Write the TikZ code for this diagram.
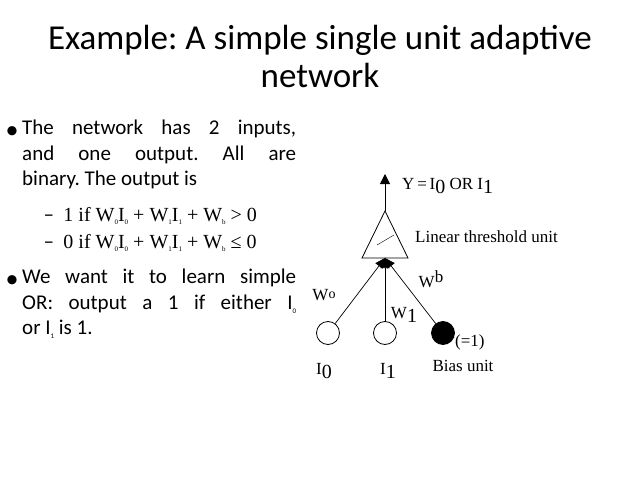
\documentclass[tikz,border=0pt]{standalone}
\usepackage{fontspec}
\setmainfont{Carlito}
\newfontfamily\tms{Liberation Serif}
\newfontfamily\dia{Liberation Serif}
\usetikzlibrary{arrows.meta}
\newcommand{\sbs}[1]{\raisebox{-0.4ex}{\fontsize{7}{7}\selectfont #1}}
\frenchspacing
\begin{document}
\begin{tikzpicture}[x=1pt,y=-1pt,
  body/.style={font=\fontsize{21}{25.5}\selectfont, anchor=north west, inner sep=0pt, text width=274pt, align=justify},
  lbl/.style={font=\dia\fontsize{17}{17}\selectfont, inner sep=0pt},
  unit/.style={circle, draw, thick, minimum size=23pt, inner sep=0pt},
  conn/.style={draw, line width=0.7pt}]
\useasboundingbox (0,0) rectangle (638,479);
\node[font=\fontsize{35}{38}\selectfont, align=center] (title) at (320,56) {Example: A simple single unit adaptive\\network};
\node[font=\fontsize{26}{26}\selectfont] (b1) at (12,133) {\textbullet};
\node[body] (t1) at (22,120) {\hyphenpenalty=10000 The network has 2 inputs,\linebreak and one output. All are\linebreak binary. The output is};
\node[font=\fontsize{21}{21}\selectfont, anchor=west] (d1) at (40,216) {–\ \ {\tms\fontsize{20}{20}\selectfont 1 if W\sbs{0}I\sbs{0} + W\sbs{1}I\sbs{1} + W\sbs{b} > 0}};
\node[font=\fontsize{21}{21}\selectfont, anchor=west] (d2) at (40,243) {–\ \ {\tms\fontsize{20}{20}\selectfont 0 if W\sbs{0}I\sbs{0} + W\sbs{1}I\sbs{1} + W\sbs{b} ≤ 0}};
\node[font=\fontsize{26}{26}\selectfont] (b2) at (12,282) {\textbullet};
\node[body] (t2) at (22,269) {\hyphenpenalty=10000 We want it to learn simple\linebreak OR: output a 1 if either I\sbs{0}\linebreak or I\sbs{1} is 1.};
% diagram
\node[unit] (i0) at (328,333) {};
\node[unit] (i1) at (385,333) {};
\node[unit, fill=black] (bias) at (443,333) {};
\coordinate (c) at (385,258);
\draw[thick] (362,258) -- (408,258) -- (385,211) -- cycle;
\draw (377,245) -- (394,235);
\coordinate (top) at (385,174);
\draw[thick,-{Triangle[length=10pt,width=10pt]}] (385,211) -- (top);
\draw[conn,-{Triangle[length=10pt,width=9pt]}] (i0) -- (c);
\draw[conn,-{Triangle[length=10pt,width=9pt]}] (i1) -- (c);
\draw[conn,-{Triangle[length=10pt,width=9pt]}] (bias) -- (c);
\node[lbl, anchor=west] (y) at (402,186) {Y\,=\,I\raisebox{-0.5ex}{\fontsize{20}{20}\selectfont 0} OR I\raisebox{-0.5ex}{\fontsize{20}{20}\selectfont 1}};
\node[lbl, anchor=west] (lt) at (415,237) {Linear threshold unit};
\node[lbl] (w0) at (324,295) {W\raisebox{0.2ex}{\fontsize{14}{14}\selectfont o}};
\node[lbl] (w1) at (404,315) {W\raisebox{-0.5ex}{\fontsize{20}{20}\selectfont 1}};
\node[lbl] (wb) at (431,279) {W\raisebox{0.6ex}{b}};
\node[lbl, anchor=west] (eq) at (455,342) {(=1)};
\node[lbl] (bu) at (463,366) {Bias unit};
\node[lbl] (l0) at (324,371) {I\raisebox{-0.5ex}{\fontsize{20}{20}\selectfont 0}};
\node[lbl] (l1) at (388,371) {I\raisebox{-0.5ex}{\fontsize{20}{20}\selectfont 1}};
\end{tikzpicture}
\end{document}
